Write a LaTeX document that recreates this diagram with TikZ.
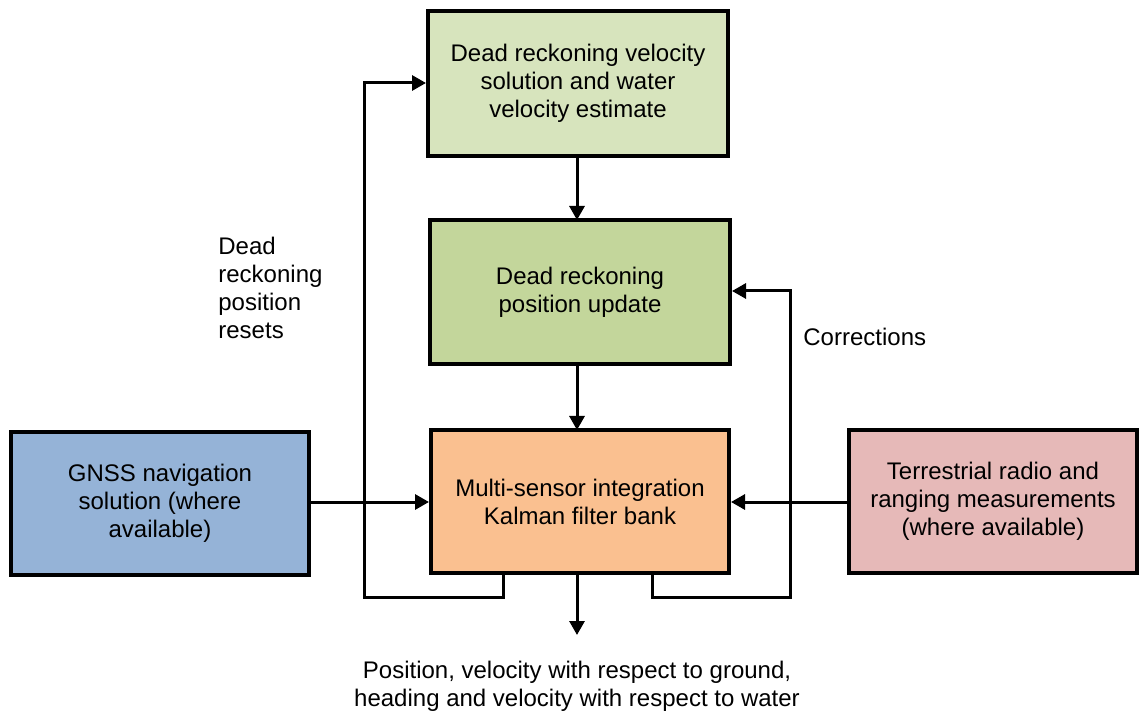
\documentclass[tikz,border=0pt]{standalone}
\usepackage{fontspec}
\setmainfont{Liberation Sans}
\usetikzlibrary{arrows.meta}
\definecolor{cTop}{HTML}{D7E4BD}
\definecolor{cMid}{HTML}{C3D69B}
\definecolor{cKf}{HTML}{FAC090}
\definecolor{cGnss}{HTML}{95B3D7}
\definecolor{cTerr}{HTML}{E6B9B8}
\tikzset{
  blk/.style={draw=black, line width=2pt, align=center, inner sep=0pt,
    font=\fontsize{12}{14}\selectfont},
  lbl/.style={align=left, inner sep=0pt, font=\fontsize{12}{14}\selectfont},
  conn/.style={line width=1.5pt, -{Triangle[length=7pt,width=7.5pt]}},
  plain/.style={line width=1.5pt}
}
\begin{document}
\begin{tikzpicture}[x=0.5pt,y=-0.5pt]
\useasboundingbox (0,0) rectangle (1140,716);
\node[blk, fill=cTop, minimum width=150pt, minimum height=72.5pt] (top) at (578,83.5)
  {Dead reckoning velocity\\solution and water\\velocity estimate};
\node[blk, fill=cMid, minimum width=150pt, minimum height=72pt] (mid) at (580,292)
  {Dead reckoning\\position update};
\node[blk, fill=cKf, minimum width=149pt, minimum height=71.5pt] (kf) at (580,501.5)
  {Multi-sensor integration\\Kalman filter bank};
\node[blk, fill=cGnss, minimum width=149pt, minimum height=71.5pt] (gnss) at (160,503.5)
  {GNSS navigation\\solution (where\\available)};
\node[blk, fill=cTerr, minimum width=144pt, minimum height=71.5pt] (terr) at (993,501.5)
  {Terrestrial radio and\\ranging measurements\\(where available)};

\node[lbl, anchor=west] (resets) at (218,288) {Dead\\reckoning\\position\\resets};
\node[lbl, anchor=west] (corr) at (803,337) {Corrections};
\node[lbl, align=center] (out) at (577,686)
  {Position, velocity with respect to ground,\\heading and velocity with respect to water};

\coordinate (kfL) at (503,573);
\coordinate (kfR) at (652,573);
\coordinate (lb) at (503,597);
\coordinate (ll) at (364,597);
\coordinate (lt) at (364,83);
\coordinate (rb) at (652,597);
\coordinate (rr) at (790,597);
\coordinate (rt) at (790,291);
\coordinate (outend) at (577,635);

\draw[conn] (577,156) -- (577,220);
\draw[conn] (577,364) -- (577,430);
\draw[conn] (577,573) -- (outend);
\draw[conn] (gnss.east |- 0,502) -- (kf.west |- 0,502);
\draw[conn] (terr.west |- 0,502) -- (kf.east |- 0,502);
\draw[conn] (kfL) -- (lb) -- (ll) -- (lt) -- (top.west |- lt);
\draw[conn] (kfR) -- (rb) -- (rr) -- (rt) -- (mid.east |- rt);
\end{tikzpicture}
\end{document}
